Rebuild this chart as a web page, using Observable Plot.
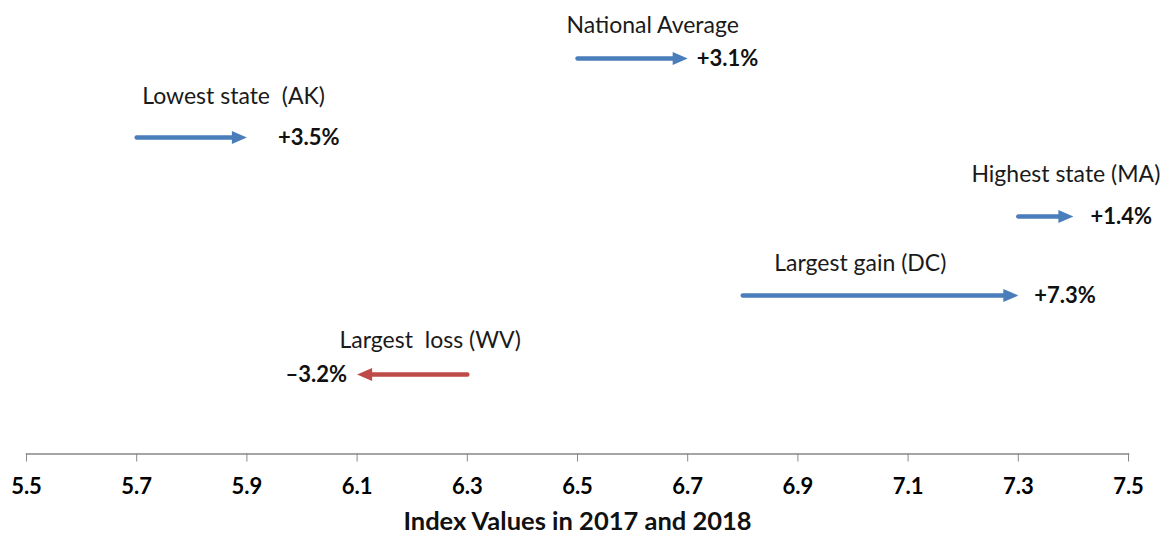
<!DOCTYPE html>
<html>
<head>
<meta charset="utf-8">
<script src="https://cdn.jsdelivr.net/npm/d3@7"></script>
<script src="https://cdn.jsdelivr.net/npm/@observablehq/plot@0.6"></script>
<style>
  html, body { margin: 0; padding: 0; background: #fff; }
  #chart svg text { white-space: pre; }
</style>
</head>
<body>
<div id="chart"></div>
<script>
// ---- data ----
const keys = ["NA", "AK", "MA", "DC", "WV"];
const names = ["National Average", "Lowest state  (AK)", "Highest state (MA)", "Largest gain (DC)", "Largest  loss (WV)"];
const v2017 = [6.5, 5.7, 7.3, 6.8, 6.3];
const v2018 = [6.7, 5.9, 7.4, 7.3, 6.1];
const pctLabels = ["+3.1%", "+3.5%", "+1.4%", "+7.3%", "\u20133.2%"];
const labelAnchorX = [6.48, 5.71, 7.215, 6.857, 6.068]; // annotation anchor (index units)
const xTicks = [5.5, 5.7, 5.9, 6.1, 6.3, 6.5, 6.7, 6.9, 7.1, 7.3, 7.5];

// ---- styles ----
const labelDy = [-33, -41, -42, -32, -34];
const valueDx = [9, 31, 17, 16, -10];
const BLUE = "#4a7ebb", RED = "#be4b48";

const rows = keys.map((k, i) => ({
  key: k, name: names[i], start: v2017[i], end: v2018[i], pct: pctLabels[i], lx: labelAnchorX[i], i
}));

const headRight = {draw(ctx) { ctx.moveTo(0, 0); ctx.lineTo(-15, -6.5); ctx.lineTo(-15, 6.5); ctx.closePath(); }};
const headLeft  = {draw(ctx) { ctx.moveTo(0, 0); ctx.lineTo(15, -6.5); ctx.lineTo(15, 6.5); ctx.closePath(); }};
const col = d => d.end >= d.start ? BLUE : RED;

const marks = [
  Plot.frame({anchor: "bottom", stroke: "#878787", strokeWidth: 1.5}),
  Plot.axisX({ticks: xTicks, tickSize: 8, tickPadding: 16, tickFormat: d => d.toFixed(1),
    stroke: "#878787", fill: "#000", fontSize: 22, fontWeight: "bold", label: null}),
  Plot.text([0], {frameAnchor: "bottom", dy: 76, text: () => "Index Values in 2017 and 2018",
    fontSize: 25.5, fontWeight: "bold", fill: "#111"}),
  Plot.arrow(rows, {x1: "start", x2: "end", y1: "key", y2: "key", stroke: col, strokeWidth: 4.5,
    headLength: 0, insetEnd: 12, strokeLinecap: "round"}),
  Plot.dot(rows.filter(d => d.end >= d.start), {x: "end", y: "key", symbol: headRight, fill: BLUE, stroke: null}),
  Plot.dot(rows.filter(d => d.end < d.start), {x: "end", y: "key", symbol: headLeft, fill: RED, stroke: null}),
  ...rows.map(d => Plot.text([d], {x: "lx", y: "key", text: "name", textAnchor: "start", dy: labelDy[d.i],
    fontSize: 23, fill: "#1a1a1a"})),
  ...rows.map(d => Plot.text([d], {x: "end", y: "key", text: "pct", textAnchor: d.end >= d.start ? "start" : "end",
    dx: valueDx[d.i], fontSize: 22, fontWeight: "bold", fill: "#111"}))
];

const chart = Plot.plot({
  width: 1162, height: 535,
  marginLeft: 26, marginRight: 34, marginTop: 0, marginBottom: 81.5,
  x: {domain: [5.5, 7.5]},
  y: {type: "point", domain: keys, range: [58, 374], padding: 0, axis: null},
  style: {fontFamily: "Lato, 'Open Sans', sans-serif", background: "#fff", overflow: "visible"},
  marks
});
document.getElementById("chart").appendChild(chart);
</script>
</body>
</html>
